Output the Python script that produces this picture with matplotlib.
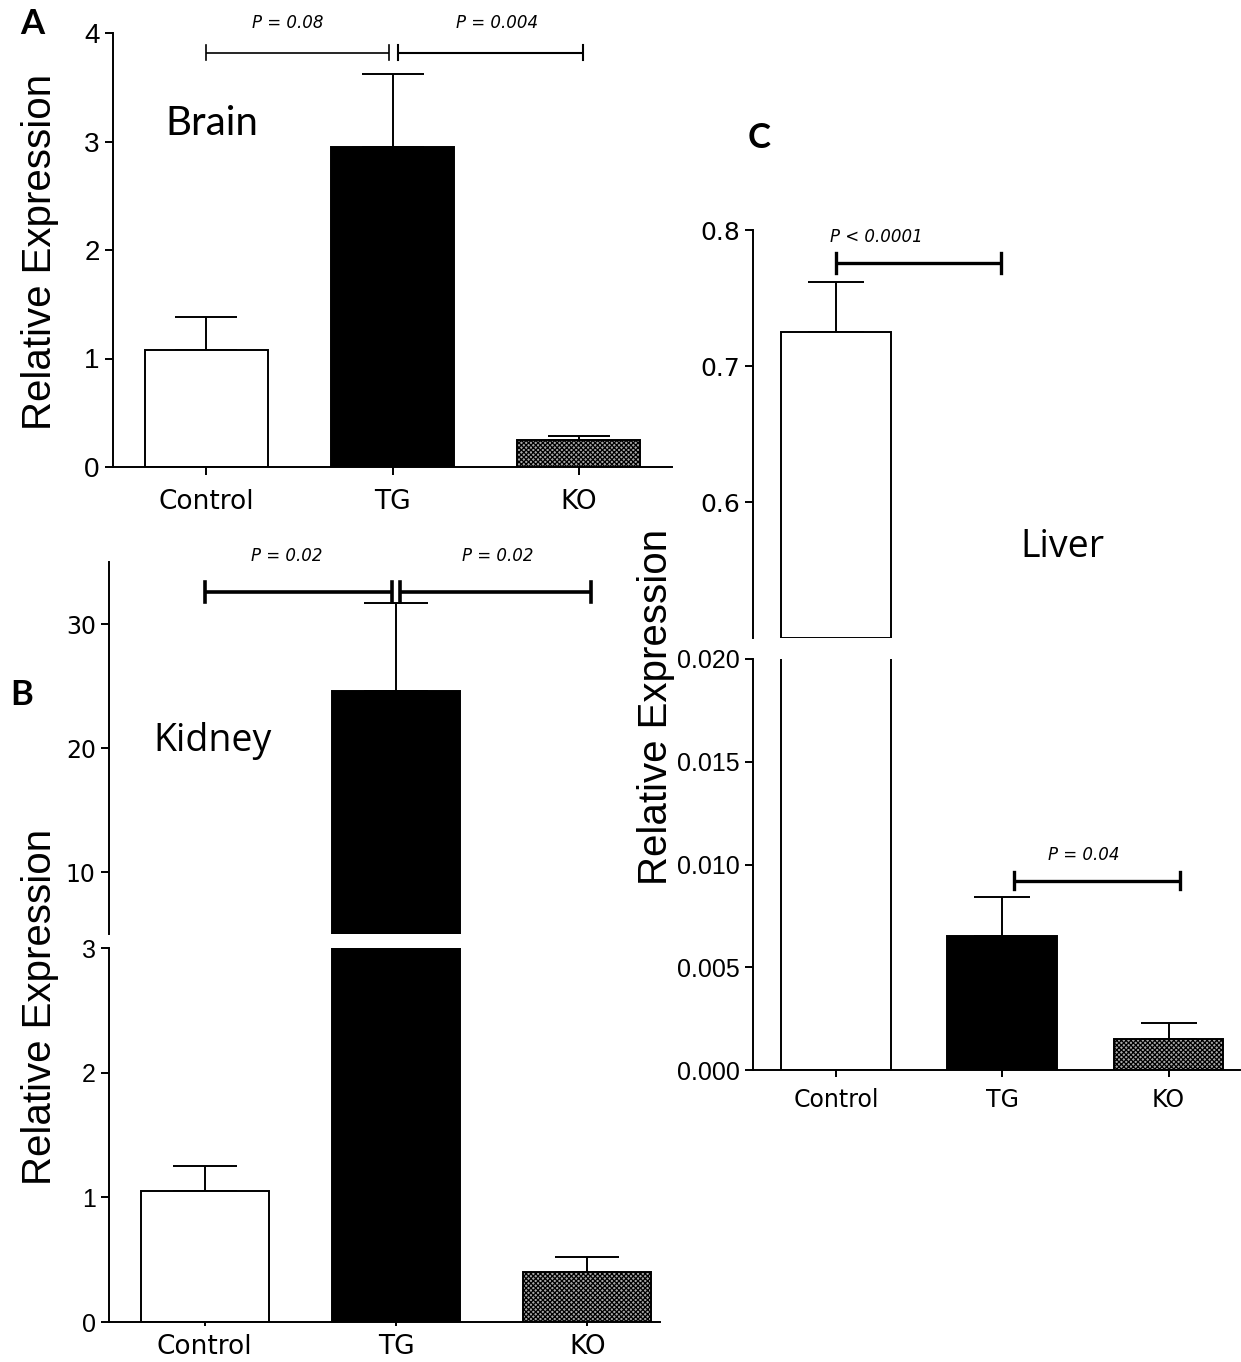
import numpy as np
import matplotlib
matplotlib.use("Agg")
import matplotlib.pyplot as plt

groups = ["Control", "TG", "KO"]

# Brain (panel A)
brain_mean = [1.08, 2.95, 0.25]
brain_err = [0.30, 0.67, 0.04]
brain_p = ["P = 0.08", "P = 0.004"]

# Kidney (panel B, broken axis)
kidney_mean = [1.05, 24.6, 0.40]
kidney_err = [0.20, 7.1, 0.12]
kidney_p = ["P = 0.02", "P = 0.02"]

# Liver (panel C, broken axis)
liver_mean = [0.725, 0.0065, 0.0015]
liver_err = [0.037, 0.0019, 0.0008]
liver_p = ["P < 0.0001", "P = 0.04"]

faces = ["white", "black", "#a8a8a8"]
hatches = [None, None, "xxxxxxx"]

plt.rcParams["hatch.linewidth"] = 0.9
plt.rcParams["font.family"] = "DejaVu Sans"

W, H = 1241, 1362
fig = plt.figure(figsize=(W / 100, H / 100), dpi=100)


def rect(x0, x1, ytop, ybot):
    return [x0 / W, 1 - ybot / H, (x1 - x0) / W, (ybot - ytop) / H]


def draw_bars(ax, means, errs, width, capsize, lw=1.4, bottom=0):
    x = np.arange(len(means))
    for i in range(len(means)):
        # a bar that ends below the lower edge of a broken-axis segment is not drawn there
        if means[i] <= bottom:
            continue
        ax.bar(x[i], means[i] - bottom, bottom=bottom, width=width, color=faces[i],
               edgecolor="black", linewidth=lw, hatch=hatches[i], zorder=2)
    ax.errorbar(x, means, yerr=[np.zeros(len(means)), errs], fmt="none", ecolor="black",
                elinewidth=lw, capsize=capsize, capthick=lw, zorder=1)


def bracket(ax, x0, x1, y, cap, lw):
    ax.plot([x0, x1], [y, y], color="black", lw=lw, clip_on=False, solid_capstyle="butt")
    for xx in (x0, x1):
        ax.plot([xx, xx], [y - cap, y + cap], color="black", lw=lw, clip_on=False)


def style(ax, bottom_axis=True):
    for s in ["top", "right"]:
        ax.spines[s].set_visible(False)
    for s in ["left", "bottom"]:
        ax.spines[s].set_linewidth(1.4)
    if not bottom_axis:
        ax.spines["bottom"].set_visible(False)
        ax.tick_params(axis="x", bottom=False, labelbottom=False)
    ax.set_facecolor("none")


# ---------------- Panel A ----------------
axA = fig.add_axes(rect(113, 672, 33, 467))
draw_bars(axA, brain_mean, brain_err, 0.66, 22)
axA.set_xlim(-0.5, 2.5)
axA.set_ylim(0, 4)
axA.set_yticks([0, 1, 2, 3, 4])
axA.set_xticks(range(3))
axA.set_xticklabels(groups, fontsize=19)
for t in axA.get_yticklabels():
    t.set_fontfamily("Liberation Sans")
    t.set_fontsize(20)
axA.tick_params(axis="both", length=6, width=1.4)
axA.tick_params(axis="x", pad=10)
style(axA)
bracket(axA, 0, 0.98, 3.82, 0.07, 1.2)
bracket(axA, 1.03, 2.02, 3.82, 0.07, 1.5)
axA.text(0.44, 4.09, brain_p[0], fontsize=12, style="italic", ha="center", va="center")
axA.text(1.56, 4.09, brain_p[1], fontsize=12, style="italic", ha="center", va="center")
axA.text(0.03, 3.17, "Brain", fontsize=29, family="Lato", ha="center", va="center")

# ---------------- Panel B ----------------
axBt = fig.add_axes(rect(109, 660, 562, 934))
axBb = fig.add_axes(rect(109, 660, 948, 1322))
for ax in (axBt, axBb):
    draw_bars(ax, kidney_mean, kidney_err, 0.67, 23, bottom=0)
    ax.set_xlim(-0.5, 2.38)
axBt.set_ylim(5, 35)
axBb.set_ylim(0, 3)
axBt.set_yticks([10, 20, 30])
axBb.set_yticks([0, 1, 2, 3])
axBb.set_xticks(range(3))
axBb.set_xticklabels(groups, fontsize=19)
style(axBt, bottom_axis=False)
style(axBb)
axBt.tick_params(axis="y", length=6, width=1.4, labelsize=17)
for t in axBb.get_yticklabels():
    t.set_fontfamily("Liberation Sans")
    t.set_fontsize(18)
axBb.tick_params(axis="y", length=6, width=1.4)
axBb.tick_params(axis="x", length=3, width=1.4, pad=6)
bracket(axBt, 0, 0.98, 32.6, 0.8, 2.6)
bracket(axBt, 1.02, 2.02, 32.6, 0.8, 2.6)
axBt.text(0.43, 35.5, kidney_p[0], fontsize=12, style="italic", ha="center", va="center")
axBt.text(1.53, 35.5, kidney_p[1], fontsize=12, style="italic", ha="center", va="center")
axBt.text(0.04, 20.6, "Kidney", fontsize=27, family="Open Sans", ha="center", va="center")

# ---------------- Panel C ----------------
axCt = fig.add_axes(rect(753, 1240, 230, 638))
axCb = fig.add_axes(rect(753, 1240, 659, 1070))
draw_bars(axCt, liver_mean, liver_err, 0.66, 20, bottom=0.5)
draw_bars(axCb, liver_mean, liver_err, 0.66, 20, bottom=0)
for ax in (axCt, axCb):
    ax.set_xlim(-0.5, 2.43)
axCt.set_ylim(0.5, 0.8)
axCb.set_ylim(0, 0.02)
axCt.set_yticks([0.6, 0.7, 0.8])
axCt.set_yticklabels(["0.6", "0.7", "0.8"])
axCb.set_yticks([0, 0.005, 0.01, 0.015, 0.02])
axCb.set_yticklabels(["0.000", "0.005", "0.010", "0.015", "0.020"])
axCb.set_xticks(range(3))
axCb.set_xticklabels(groups, fontsize=17)
style(axCt, bottom_axis=False)
style(axCb)
axCt.tick_params(axis="y", length=6, width=1.4, labelsize=18)
for t in axCb.get_yticklabels():
    t.set_fontfamily("Liberation Sans")
    t.set_fontsize(18)
axCb.tick_params(axis="y", length=6, width=1.4)
axCb.tick_params(axis="x", length=5, width=1.4, pad=8)
bracket(axCt, 0, 0.99, 0.7757, 0.0075, 2.4)
axCt.text(0.24, 0.795, liver_p[0], fontsize=12, style="italic", ha="center", va="center")
bracket(axCb, 1.07, 2.07, 0.00922, 0.0004, 2.4)
axCb.text(1.49, 0.01044, liver_p[1], fontsize=12, style="italic", ha="center", va="center")
axCt.text(1.36, 0.567, "Liver", fontsize=27, family="Open Sans", ha="center", va="center")

# axis titles and panel letters
ylab = dict(rotation=90, ha="center", va="center", family="Liberation Sans", fontsize=29)
fig.text(40 / W, 1 - 252 / H, "Relative Expression", **ylab)
fig.text(40 / W, 1 - 1007 / H, "Relative Expression", **ylab)
fig.text(656 / W, 1 - 707 / H, "Relative Expression", **ylab)
for letter, x, y in [("A", 32, 24), ("B", 22, 695), ("C", 759, 138)]:
    fig.text(x / W, 1 - y / H, letter, fontsize=25, fontweight="bold", family="Lato",
             ha="center", va="center")

fig.savefig("out.png", dpi=100)
